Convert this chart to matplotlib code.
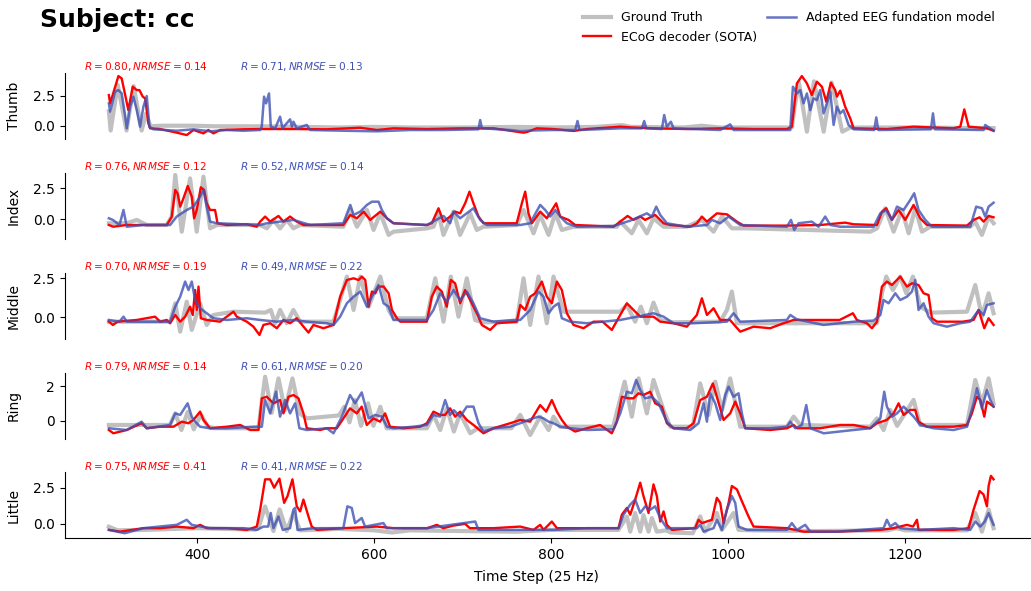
import numpy as np
import matplotlib.pyplot as plt

# Finger flexion traces for subject cc as (time step, value) knots
thumb_gt = [(300, 1.2), (302, -0.4), (310, 3.4), (320, -0.4), (328, 3.3), (337, -0.4), (342, 1.0),
            (347, -0.05), (360, 0.0), (395, 0.0), (420, -0.05), (470, -0.05), (520, -0.1), (560, -0.15),
            (600, -0.1), (640, -0.15), (700, -0.15), (760, -0.1), (800, -0.15), (850, -0.1), (880, 0.05),
            (890, -0.1), (950, -0.15), (970, 0.0), (990, -0.15), (1072, -0.15), (1075, 1.5), (1080, 3.6),
            (1089, -0.5), (1097, 3.7), (1108, -0.5), (1117, 3.6), (1129, -0.5), (1138, -0.15),
            (1200, -0.15), (1300, -0.2)]
thumb_ecog = [(300, 2.55), (301.4, 1.86), (310.8, 4.14), (314.5, 3.94), (322, 1.3), (327, 3.25),
              (331.5, 2.97), (334.5, 2.97), (338.3, 2.42), (341, 2.28), (344.7, 0.2), (346.6, -0.22),
              (358, -0.28), (376.7, -0.58), (388, -0.78), (395.6, -0.36), (406.9, -0.64), (412.5, -0.36),
              (418.2, -0.64), (425.8, -0.36), (452, -0.3), (471, -0.28), (508.6, -0.28), (546, -0.3),
              (584, -0.17), (603, -0.36), (621.7, -0.22), (659.4, -0.28), (697, -0.22), (734.7, -0.22),
              (768.7, -0.58), (772.4, -0.53), (783.7, -0.22), (802.6, -0.28), (825.2, -0.44),
              (840.3, -0.28), (878, -0.08), (889.3, -0.14), (915.6, -0.22), (953.3, -0.28), (991, -0.22),
              (1028.7, -0.28), (1066.4, -0.28), (1072, -0.08), (1077.7, 3.53), (1083.3, 4.14),
              (1089, 3.53), (1094.6, 2.56), (1100.3, 3.67), (1106, 3.25), (1110.9, 2.0), (1116.1, 3.58),
              (1121, 2.97), (1122.9, 2.42), (1126.7, 2.92), (1132.3, 1.58), (1138, 0.61), (1141.8, -0.22),
              (1179.4, -0.28), (1209.6, -0.08), (1254.8, -0.22), (1262.4, -0.08), (1266.9, 1.36),
              (1271.8, -0.08), (1292.5, -0.22), (1300, -0.42)]
thumb_eeg = [(300, 1.86), (301.4, 1.17), (307, 2.83), (310.8, 2.97), (314.5, 2.69), (318.5, 0.75),
             (320.2, -0.22), (324, 1.58), (327.7, 2.42), (331.5, 1.3), (335.3, -0.08), (339, 1.58),
             (342.8, 2.47), (345.8, -0.08), (350.3, -0.3), (376.7, -0.42), (395.6, -0.3), (414.4, -0.47),
             (433.3, -0.36), (452, -0.42), (471, -0.36), (472.8, -0.08), (475.4, 2.42), (477.7, 1.86),
             (481, 2.69), (483, -0.08), (488, -0.22), (493.5, 0.75), (496.2, -0.22), (504.8, 0.53),
             (506.9, -0.08), (508.6, 0.33), (512.4, -0.22), (523.7, 0.06), (527.5, -0.36), (565, -0.42),
             (603, -0.47), (640.6, -0.36), (678.2, -0.36), (717.8, -0.3), (719.7, 0.47), (721.6, -0.22),
             (753.6, -0.36), (765, -0.42), (802.6, -0.36), (827.1, -0.36), (829.7, 0.39), (832, -0.36),
             (878, -0.22), (902.5, -0.22), (905.1, 0.39), (907.4, -0.22), (925.1, -0.28), (927.7, 0.89),
             (930.7, -0.08), (935.2, 0.33), (938.3, -0.22), (991, -0.36), (1002.3, 0.11), (1006.1, -0.36),
             (1070.2, -0.36), (1073.2, 3.25), (1077.7, 2.69), (1081.5, 2.97), (1085.2, 1.86), (1089, 2.69),
             (1092.8, 1.3), (1096.5, 2.28), (1100.3, 2.14), (1104.1, 2.97), (1107.8, 1.03), (1111.6, 1.86),
             (1115.4, 2.83), (1119.2, 0.06), (1122.9, 1.58), (1126.7, 1.03), (1130.4, 1.3), (1136.1, 0.06),
             (1141.8, -0.3), (1165.1, -0.36), (1167.4, 0.69), (1169.7, -0.36), (1229.2, -0.3),
             (1231.5, 1.03), (1233.7, -0.3), (1288.7, -0.36), (1290.6, 0.06), (1300, -0.42)]

index_gt = [(300, -0.32), (320, -0.32), (331.5, -0.05), (342.8, -0.46), (365.4, -0.46), (371, 0.2),
            (375, 3.58), (382.4, -1.0), (391.8, 3.3), (399.3, -1.0), (406.9, 3.44), (414.4, -0.73),
            (422, -0.46), (471, -0.46), (478.5, -0.73), (486, -0.05), (493.5, -0.73), (501, -0.05),
            (508.6, -0.73), (516.2, -0.46), (565, -0.6), (572.9, 0.75), (580.4, -0.6), (591.7, 0.75),
            (599.2, -0.86), (606.8, 0.48), (616.2, -1.26), (621.7, -1.0), (659.4, -0.73), (667, -0.6),
            (672.6, 0.48), (678.2, -1.26), (689.6, 0.62), (697, -1.26), (708.4, 0.48), (715.9, -0.86),
            (723.4, -0.6), (761, -0.46), (768.7, 0.75), (780, -1.13), (787.5, 0.35), (797, -1.26),
            (804.5, 0.48), (812, -0.86), (825.2, -0.6), (874.2, -0.6), (878, -0.19), (891.1, -1.13),
            (898.7, -0.05), (908.1, -1.13), (915.6, 0.08), (927, -0.6), (953.3, -0.6), (970.3, -0.05),
            (983.5, -1.0), (993, 0.22), (1004.2, -0.73), (1021.2, -0.73), (1160.6, -1.0), (1168.2, -0.73),
            (1177.6, 0.89), (1187, -1.0), (1196.4, 0.75), (1204, -1.13), (1211.5, 0.89), (1219, -1.0),
            (1228.4, -0.6), (1273.6, -0.6), (1279.3, -0.19), (1286.8, -1.26), (1294.4, 0.22),
            (1300, -0.32)]
index_ecog = [(300, -0.46), (305, -0.6), (320, -0.46), (365.4, -0.46), (371, 0.2), (375, 2.37),
              (377.6, 2.1), (380.6, 1.02), (383.6, 1.56), (389.2, 2.69), (393.7, 1.83), (396.4, 0.08),
              (399.3, 0.75), (403.9, 2.58), (407.6, 2.37), (410.6, 1.29), (414.4, 0.75), (420, 0.75),
              (422.8, -0.32), (433.3, -0.46), (455.9, -0.4), (467.2, -0.6), (471, -0.19), (476.6, 0.22),
              (482.3, -0.19), (491.7, 0.27), (497.4, -0.19), (504.8, 0.22), (512.4, -0.19), (520, -0.46),
              (565, -0.46), (572.9, 0.35), (580.4, 0.08), (587.9, 0.62), (595.4, -0.05), (606.8, 0.62),
              (614.3, 0.08), (621.7, -0.32), (659.4, -0.46), (665, -0.32), (672.6, 0.89), (678.2, -0.19),
              (685.7, 0.22), (691.4, 0.62), (697, 0.48), (702.7, 1.29), (707.6, 2.23), (712.1, 1.29),
              (717.8, 0.22), (723.4, -0.32), (761, -0.32), (766.8, 1.29), (770.6, 2.23), (774.3, 0.48),
              (778.1, -0.32), (787.5, 0.62), (795, 0.08), (805.6, 1.29), (810.1, 0.22), (819.5, -0.05),
              (827.1, -0.46), (870.4, -0.6), (878, -0.19), (886.3, 0.27), (893, -0.05), (900.6, 0.22),
              (906.2, -0.05), (917.5, 0.35), (927, -0.32), (934.5, -0.46), (957.1, -0.6), (964.6, -0.32),
              (970.3, 0.22), (976, -0.19), (987.3, 0.48), (998.6, 0.4), (1009.9, -0.19), (1017.4, -0.51),
              (1066.4, -0.51), (1104.1, -0.46), (1132.3, -0.27), (1141.8, -0.4), (1168.2, -0.46),
              (1173.8, 0.62), (1178.7, 0.89), (1185.1, -0.05), (1192.6, 0.75), (1200.2, -0.05),
              (1209.6, 1.16), (1217.1, 0.08), (1224.7, -0.46), (1269.9, -0.51), (1277.4, -0.05),
              (1284.2, 0.16), (1288.7, -0.19), (1294.4, 0.27), (1300, 0.16)]
index_eeg = [(300, 0.08), (304.5, -0.05), (312, -0.46), (316.5, 0.75), (320.2, -0.6), (339, -0.46),
             (369.2, -0.46), (376.7, 0.22), (388, 0.75), (395.6, 1.02), (403.1, 1.83), (406.9, 2.37),
             (410.6, 1.02), (414.4, -0.19), (422, -0.32), (471, -0.46), (478.5, -0.32), (508.6, -0.05),
             (527.5, -0.46), (565, -0.32), (572.9, 1.16), (576.6, 0.35), (584.2, 0.62), (591.7, 1.16),
             (597.3, 1.42), (604.8, 1.42), (608.6, 0.75), (614.3, 0.08), (621.7, -0.32), (659.4, -0.46),
             (678.2, 0.27), (685.7, -0.32), (689.6, 0.62), (697, 0.08), (712.1, 0.89), (719.7, -0.05),
             (727.2, -0.46), (765, -0.46), (776.2, -0.32), (787.5, 1.16), (793.2, 0.75), (798.8, 0.22),
             (804.5, 0.75), (812, 0.08), (817.7, -0.32), (829, -0.6), (870.4, -0.54), (889.3, -0.11),
             (908.1, 0.48), (913.8, 0.22), (918.7, 1.02), (923.2, 0.35), (930.7, -0.32), (953.3, -0.6),
             (976, -0.46), (981.6, -0.05), (991, -0.32), (1000.5, 0.22), (1013.6, -0.46), (1066.4, -0.6),
             (1071, -0.05), (1074.7, -0.86), (1079.6, -0.32), (1094.6, -0.19), (1102.2, -0.6),
             (1109.7, 0.22), (1115.4, -0.46), (1126.7, -0.6), (1164.4, -0.6), (1171.9, 0.48),
             (1178.7, 0.75), (1185.1, -0.05), (1190.8, 1.02), (1198.3, 0.75), (1205.8, 1.56),
             (1210.3, 2.1), (1215.2, 0.75), (1222.8, -0.05), (1230.3, -0.6), (1273.6, -0.6),
             (1280.4, 1.02), (1286.8, 0.89), (1290.6, 0.22), (1294.4, 1.02), (1300, 1.34)]

middle_gt = [(300, -0.28), (369.2, -0.28), (375, 0.9), (380.6, -0.92), (388, 1.0), (393.7, -0.81),
             (403.1, 0.9), (410.6, -0.49), (418.2, 0.15), (440.8, 0.36), (476.6, 0.3), (483, 0.47),
             (487.9, -0.38), (493.5, 0.47), (501, -0.38), (508.6, 0.47), (516.2, -0.28), (553.9, -0.28),
             (561.4, 1.11), (569, 2.61), (576.6, 0.47), (584.2, 2.61), (593.6, 0.68), (606.8, 2.61),
             (616.2, 0.47), (621.7, -0.06), (659.4, -0.06), (668.9, 2.5), (678.2, -0.28), (686.5, 2.61),
             (695.2, 0.04), (704.6, 2.5), (714, -0.17), (721.6, -0.32), (761, -0.28), (768.7, 2.5),
             (776.2, -0.49), (785.6, 2.61), (795, -0.38), (802.6, 2.61), (813.9, 0.36), (878, 0.36),
             (885.5, 0.79), (894.9, -0.28), (901.3, 0.68), (908.1, -0.38), (915.6, 0.94), (923.2, -0.17),
             (934.5, -0.32), (991, -0.28), (998.6, 0.47), (1004.2, 1.65), (1009.9, -0.38), (1168.2, -0.38),
             (1173.8, 1.54), (1178.7, 2.61), (1186.2, 1.75), (1194.5, 2.61), (1201.3, 1.54),
             (1208.9, 2.61), (1217.1, 0.68), (1228.4, 0.3), (1269.9, 0.36), (1279.3, 2.07),
             (1286.8, 0.04), (1294.4, 1.54), (1300, 0.26)]
middle_ecog = [(300, -0.28), (304.5, -0.49), (310, -0.28), (331.5, -0.17), (352.2, 0.04), (358, -0.28),
               (365.4, -0.17), (369.2, -0.38), (375, 0.15), (380.6, -0.28), (386.2, 0.04), (391.8, 0.68),
               (394.8, 0.15), (397.5, 1.75), (399.3, 0.47), (401.3, 1.97), (403.9, -0.06), (410.6, -0.17),
               (425.7, -0.28), (440.8, 0.36), (444.6, 0.04), (455.9, -0.28), (463.4, -0.6), (470.2, -1.13),
               (474.7, -0.49), (482.3, -0.38), (489.8, -0.7), (497.4, -0.17), (504.8, -0.38),
               (512.4, -0.06), (520, -0.6), (525.6, -0.98), (531.2, -0.49), (542.5, -0.7), (553.9, -0.49),
               (561.4, 1.32), (569, 2.39), (576.6, 2.5), (582.2, 2.39), (586, 2.61), (589.8, 2.39),
               (593.6, 0.68), (597.3, 1.65), (601.1, 1.54), (604.8, 1.97), (610.5, 1.97), (616.2, 1.54),
               (620, 0.47), (625.6, -0.06), (629.4, -0.28), (659.4, -0.28), (665, 1.32), (670.6, 1.97),
               (676.3, 1.65), (681.9, 0.68), (686.5, 2.39), (691.4, 2.18), (697, 0.9), (702.7, 1.75),
               (710.2, 0.9), (715.9, 0.26), (721.6, -0.49), (731, -0.81), (738.6, -0.38), (761, -0.28),
               (765, 0.79), (770.6, 0.47), (776.2, 1.32), (781.9, 1.54), (789.4, 2.29), (795, 1.32),
               (800.7, 0.9), (806.4, 2.29), (812, 1.75), (817.7, 0.26), (825.2, -0.49), (836.5, -0.7),
               (847.8, -0.28), (858, -0.28), (868.5, -0.81), (878, 0.15), (885.5, 0.9), (893, 0.47),
               (900.6, 0.04), (915.6, 0.04), (923.2, -0.28), (938.3, -0.38), (953.3, -0.6), (964.6, 0.15),
               (970.3, 1.22), (976, 0.15), (983.5, 0.58), (991, -0.17), (1002, -0.17), (1013.6, -0.92),
               (1028.7, -0.6), (1047.5, -0.7), (1062.6, -0.38), (1074, -0.17), (1126, -0.17),
               (1141, 0.26), (1145.5, -0.17), (1156.8, -0.38), (1162.5, -0.7), (1168.2, -0.28),
               (1173.8, 1.97), (1179.4, 2.29), (1185.1, 2.07), (1194.5, 2.61), (1202.1, 1.97),
               (1207.7, 2.18), (1215.2, 2.07), (1220.9, 1.54), (1226.5, 1.43), (1230.3, -0.06),
               (1236, -0.28), (1265, -0.28), (1277.4, -0.17), (1283.1, 0.47), (1289.5, -0.7),
               (1294.4, -0.06), (1300, -0.49)]
middle_eeg = [(300, -0.17), (312, -0.28), (316.5, 0.04), (320.2, -0.28), (369.2, -0.28), (375, 0.68),
              (380.6, 1.32), (386.2, 2.29), (390, 1.75), (393.7, 2.29), (397.5, 1.11), (403.1, 0.58),
              (410.6, 0.26), (418.2, -0.06), (433.3, -0.17), (455.9, -0.06), (471, -0.17), (489.8, -0.28),
              (508.6, -0.17), (523.7, -0.28), (546, -0.38), (553.9, -0.49), (561.4, 0.04), (569, 0.9),
              (576.6, 1.32), (584.2, 1.65), (591.7, 0.68), (597.3, 1.32), (604.8, 2.07), (610.5, 0.9),
              (616.2, 0.68), (621.7, -0.17), (659.4, -0.17), (666.9, 0.47), (674.5, 1.54), (682, 1.0),
              (689.6, 1.75), (697, 1.11), (704.6, 1.65), (712.1, 0.9), (719.7, -0.06), (734.7, -0.28),
              (757.3, -0.17), (765, -0.17), (776.2, 0.47), (785.6, 1.65), (791.3, 1.32), (797, 0.26),
              (802.6, 0.68), (808.2, 0.9), (812, -0.06), (821.4, -0.28), (840.3, -0.38), (878, -0.17),
              (896.8, 0.04), (915.6, 0.26), (927, 0.04), (938.3, -0.38), (960, -0.38), (998.6, -0.28),
              (1006.1, 0.26), (1013.6, -0.28), (1066.4, -0.17), (1070.2, 0.15), (1077.7, -0.13),
              (1107.8, -0.49), (1141.8, -0.28), (1164.4, -0.21), (1172, 0.15), (1175.7, 1.11),
              (1181.3, 0.9), (1188.9, 1.54), (1194.5, 1.11), (1202.1, 1.32), (1207.7, 1.65),
              (1211.5, 2.39), (1215.2, 0.47), (1220.9, 0.9), (1226.5, 0.04), (1232.2, -0.38),
              (1247.3, -0.6), (1262.4, -0.38), (1273.6, -0.28), (1283.1, 0.47), (1288.7, 0.15),
              (1292.5, 0.79), (1300, 0.9)]

ring_gt = [(300, -0.25), (369, -0.25), (375, 0.42), (382, -0.54), (389, 0.5), (396, -0.5), (404, 0.35),
           (412, -0.35), (420, -0.44), (469, -0.44), (476.6, 2.54), (484, 0.45), (491.7, 2.44),
           (499, 0.6), (507.5, 2.44), (516, 0.4), (523.7, 0.13), (560, 0.3), (566, 0.8), (572, -0.1),
           (578, 1.2), (585, -0.3), (593, 1.0), (599, -0.3), (606.8, 0.8), (614, -0.44), (659.4, -0.44),
           (666.9, 0.33), (674.5, -0.54), (682, 0.7), (690, -0.63), (697, 0.42), (708.4, -0.73),
           (717, -0.44), (755, -0.44), (765, 0.33), (776.2, -0.83), (787.5, 0.23), (797, -0.54),
           (802.6, 0.23), (810, -0.35), (870, -0.35), (883, 2.25), (891.1, 0.23), (898.7, 2.44),
           (908.1, 0.42), (915.6, 2.35), (927, 0.6), (934.5, -0.35), (960, -0.35), (968.4, 2.15),
           (977.8, 0.33), (985.4, 2.25), (993, 0.6), (1002.3, 2.44), (1013.6, -0.35), (1066.4, -0.35),
           (1074, 0.23), (1081.6, -0.25), (1160.6, -0.35), (1168.2, 0.13), (1175.7, -0.54),
           (1183.2, 0.62), (1191, -0.3), (1209.6, 1.2), (1217.1, -0.25), (1269.9, -0.25),
           (1279.3, 2.35), (1286.8, 1.0), (1294.4, 2.44), (1300, 1.0)]
ring_ecog = [(300, -0.54), (305, -0.73), (320.2, -0.54), (337, -0.15), (342.8, -0.44), (358, -0.35),
             (373, -0.35), (382.4, -0.06), (390, -0.15), (395.6, 0.04), (403.1, 0.52), (406.9, 0.04),
             (414.4, -0.44), (433.3, -0.35), (448.4, -0.25), (459.7, -0.54), (469.1, -0.54),
             (472.9, 1.29), (478.5, 1.38), (486, 1.0), (493.5, 1.19), (497.3, 0.42), (503, 1.38),
             (508.6, 1.48), (514.3, 1.29), (519.9, 0.42), (523.7, -0.44), (538.7, -0.54), (546.3, -0.44),
             (557.6, -0.44), (565.1, 0.13), (572.6, 0.71), (580.2, 0.42), (585.8, 0.81), (591.5, -0.25),
             (599, 0.13), (606.5, -0.06), (612.2, 0.42), (617.8, -0.35), (632.9, -0.44), (651.7, -0.35),
             (659.4, -0.15), (666.9, 0.52), (674.5, 0.33), (680, 0.33), (685.7, 0.71), (691.4, 0.23),
             (697, 0.52), (704.6, 0.04), (712.1, -0.25), (723.4, -0.73), (734.7, -0.44), (753.6, -0.15),
             (765, 0.04), (776.2, -0.06), (787.5, 0.9), (794.3, 0.52), (800.7, 1.19), (806.4, 0.52),
             (812, 0.04), (817.7, -0.35), (827.1, -0.63), (840.3, -0.44), (855.3, -0.25), (868.5, -0.73),
             (874.2, -0.06), (879.8, 1.38), (887.4, 1.29), (893, 1.29), (898.7, 1.58), (904.3, 1.48),
             (911.9, 1.67), (917.5, 1.0), (925.1, 0.81), (930.7, -0.15), (938.3, -0.44), (953.3, -0.44),
             (960.9, -0.15), (968.4, 1.19), (976, 1.38), (982.7, 2.15), (987.2, 1.38), (994.8, 0.04),
             (1002.3, 0.42), (1008, 1.1), (1013.6, 0.42), (1019.3, -0.44), (1047.5, -0.54),
             (1066.4, -0.44), (1074, -0.25), (1078, -0.44), (1104.1, -0.44), (1126.7, -0.25),
             (1141.8, -0.25), (1160.6, -0.44), (1168.2, -0.15), (1179.4, 0.04), (1187, 0.42),
             (1192.6, 1.0), (1198.3, 0.33), (1205.8, 0.62), (1211.5, 0.62), (1215.2, -0.06),
             (1224.7, -0.35), (1254.8, -0.35), (1269.9, -0.25), (1275.5, 0.42), (1281.2, 1.38),
             (1285, 1.2), (1289.5, 0.23), (1292.5, 1.1), (1300, 0.81)]
ring_eeg = [(300, -0.44), (320.2, -0.54), (337, -0.06), (342.8, -0.44), (369.2, -0.25), (375, 0.42),
            (380.6, 0.33), (389, 1.0), (393.7, 0.23), (397.5, -0.06), (403.1, -0.35), (414.4, -0.44),
            (433.3, -0.44), (463.4, -0.35), (472.9, -0.35), (476.6, 1.19), (482.3, 0.42), (489, 1.67),
            (493.5, 0.23), (499.2, 1.19), (504.8, 0.42), (510.5, 1.0), (515.4, -0.44), (523.7, -0.54),
            (546.3, -0.44), (553.9, -0.73), (563.3, 0.23), (572.6, 1.48), (578.3, 1.0), (585.8, 1.63),
            (593.6, 0.13), (601.1, 0.33), (608.6, 0.23), (614.3, -0.35), (621.7, -0.44), (644.3, -0.35),
            (659.4, -0.25), (666.9, 0.33), (674.5, 0.23), (680.1, 1.19), (685.7, 0.33), (690, 0.6),
            (697, 0.23), (704.6, 0.81), (712.1, 0.81), (717.8, -0.15), (723.4, -0.63), (734.7, -0.44),
            (753.6, -0.35), (765, -0.15), (776.2, 0.08), (785.6, 0.23), (791.3, 0.13), (797, -0.06),
            (802.6, -0.15), (810.1, -0.35), (821.4, -0.44), (840.3, -0.54), (870.4, -0.5), (878, 0.42),
            (885.5, 1.67), (891.1, 1.58), (896, 2.35), (900.6, 1.77), (906.2, 1.29), (913.8, 1.38),
            (921.3, 1.0), (930.7, -0.06), (938.3, -0.44), (957.1, -0.54), (966.5, -0.15), (972.2, 1.0),
            (976, -0.06), (979.7, 1.58), (985.4, 1.0), (991, 0.04), (996.7, 1.48), (1000.5, 1.96),
            (1006.1, 1.38), (1011.7, 1.58), (1015.5, 0.42), (1019.3, -0.44), (1047.5, -0.44),
            (1066.4, -0.35), (1070.2, -0.06), (1075.8, -0.44), (1083.3, -0.25), (1088.3, 0.9),
            (1092.8, -0.44), (1108, -0.73), (1141.8, -0.54), (1160.6, -0.44), (1172, 0.13),
            (1176.4, 1.67), (1179.4, 0.81), (1185.1, 0.23), (1190.8, 0.42), (1198.3, 0.81), (1204, 0.52),
            (1209.6, 0.23), (1217.1, -0.25), (1232.2, -0.44), (1254.8, -0.54), (1269.9, -0.35),
            (1277.4, 1.0), (1281.2, 1.87), (1286.8, 0.71), (1292.5, 1.77), (1296.3, 1.19), (1300, 0.81)]

little_gt = [(300, -0.2), (310, -0.45), (340, -0.42), (400, -0.3), (465, -0.4), (469, -0.3), (476.6, 1.2),
             (486, -0.5), (493, 1.0), (501, -0.5), (508.6, 0.75), (516, -0.45), (560, -0.35), (600, -0.45),
             (620, -0.6), (640, -0.45), (700, -0.5), (760, -0.55), (800, -0.42), (876, -0.42), (885.5, 0.5),
             (889.3, -0.54), (894.9, 0.75), (900.6, -0.54), (904.3, 0.6), (910, -0.54), (913.8, 0.4),
             (919.4, -0.54), (930, -0.45), (935, -0.6), (960, -0.65), (968.4, 0.51), (974, -0.54),
             (987.2, 0.75), (992.9, -0.42), (1006.1, 0.75), (1011.7, -0.42), (1030, -0.45), (1100, -0.5),
             (1180, -0.45), (1190, -0.3), (1200, -0.45), (1270, -0.45), (1279.3, 0.75), (1286.8, -0.54),
             (1294.4, 0.98), (1300, -0.3)]
little_ecog = [(300, -0.42), (312.7, -0.54), (339, -0.3), (358, -0.3), (376.7, -0.19), (395.6, -0.3),
               (403.1, -0.07), (410.6, -0.3), (433.3, -0.3), (455.9, -0.42), (467.2, -0.19), (471, 0.98),
               (476.6, 3.08), (482.3, 3.08), (486.8, 2.5), (492.8, 3.13), (498.1, 1.45), (501.9, 1.92),
               (507.5, 3.08), (512.4, 1.21), (516.2, 0.86), (519.9, 1.68), (525.6, 0.51), (529.3, -0.19),
               (535, -0.42), (565, -0.3), (603, -0.19), (621.7, -0.3), (660, -0.3), (670.7, -0.07),
               (678, -0.3), (689.6, -0.12), (702.7, 0.0), (708, -0.3), (734.7, -0.3), (764.9, -0.19),
               (780, -0.42), (787.5, -0.07), (791.3, -0.42), (800.7, 0.16), (806.4, -0.3), (840.3, -0.3),
               (876.1, -0.3), (879.8, 0.63), (885.5, 1.1), (889.3, 0.63), (894.9, 1.68), (900.6, 2.85),
               (904.3, 1.92), (910, 0.75), (915.6, 2.73), (919.4, 1.92), (923.2, 0.16), (927, 0.86),
               (930.7, -0.07), (936.4, -0.42), (962.7, -0.3), (966.5, 0.28), (970.3, 0.05), (981.6, 0.28),
               (987.2, 1.8), (991, 1.45), (994.8, 0.05), (1000.5, 1.45), (1004.2, 2.62), (1009.9, 2.38),
               (1015.5, 1.57), (1023, 0.51), (1028.7, -0.19), (1066.4, -0.3), (1085.2, -0.54),
               (1123, -0.54), (1171.9, -0.42), (1187, -0.3), (1202.1, -0.07), (1209, -0.19),
               (1213.4, 0.28), (1215.2, -0.42), (1254.8, -0.42), (1271.8, -0.3), (1277.4, 0.98),
               (1284.2, 2.27), (1288.7, 2.03), (1292.5, 1.21), (1294.4, 2.62), (1297, 3.32), (1300, 3.08)]
little_eeg = [(300, -0.42), (317.8, -0.65), (339, -0.3), (376.7, -0.07), (388, 0.28), (393.7, -0.07),
              (414.4, -0.3), (452, -0.3), (467.2, -0.42), (474.7, -0.19), (480, -0.19), (483, 0.75),
              (486, -0.3), (491.7, 0.51), (496.6, -0.42), (504.8, -0.3), (508.6, 0.98), (510.5, 1.1),
              (513.2, -0.42), (531.2, -0.3), (565, -0.3), (569.6, 1.21), (574.5, 1.1), (578.3, 0.05),
              (585.8, 0.4), (589.6, -0.19), (610.3, 0.05), (614.1, -0.3), (659.4, -0.3), (714.1, 0.16),
              (717.8, -0.42), (765, -0.42), (802.6, -0.42), (840.3, -0.3), (876.1, -0.3), (881.7, 0.63),
              (889.3, 1.33), (894.9, 1.68), (900.6, 0.75), (906.2, 1.21), (911.9, 0.98), (917.5, 1.21),
              (923.2, 0.4), (930.7, -0.3), (964.6, -0.3), (968.4, -0.07), (972.2, -0.54), (983.5, -0.3),
              (987.2, 0.28), (992.9, -0.42), (998.6, 0.98), (1004.2, 1.92), (1008, 1.45), (1011.7, -0.19),
              (1021.2, -0.42), (1066.4, -0.42), (1072, 0.05), (1077.7, -0.42), (1087.1, -0.07),
              (1092.8, -0.54), (1123, -0.54), (1175.7, -0.3), (1179.4, 0.28), (1183.2, -0.19),
              (1188.9, 0.05), (1194.5, -0.3), (1217.1, -0.42), (1254.8, -0.3), (1273.6, -0.42),
              (1279.3, 0.16), (1285, -0.19), (1290, 0.16), (1294.4, 0.75), (1300, -0.07)]

fingers = ['Thumb', 'Index', 'Middle', 'Ring', 'Little']
gt_series = [thumb_gt, index_gt, middle_gt, ring_gt, little_gt]
ecog_series = [thumb_ecog, index_ecog, middle_ecog, ring_ecog, little_ecog]
eeg_series = [thumb_eeg, index_eeg, middle_eeg, ring_eeg, little_eeg]
ecog_r = [0.80, 0.76, 0.70, 0.79, 0.75]
ecog_nrmse = [0.14, 0.12, 0.19, 0.14, 0.41]
eeg_r = [0.71, 0.52, 0.49, 0.61, 0.41]
eeg_nrmse = [0.13, 0.14, 0.22, 0.20, 0.22]
ylims = [(-1.11, 4.42), (-1.59, 3.76), (-1.39, 2.86), (-1.06, 2.77), (-1.0, 3.59)]
yticks = [[0.0, 2.5], [0.0, 2.5], [0.0, 2.5], [0.0, 2.0], [0.0, 2.5]]

gt_color = '#c0c0c0'
ecog_color = 'red'
eeg_color = '#3f51b5'

fig = plt.figure(figsize=(10.31, 5.91), dpi=100)
bottoms = [0.7648, 0.5956, 0.4264, 0.2572, 0.0892]

for i, name in enumerate(fingers):
    ax = fig.add_axes([0.0627, bottoms[i], 0.9439, 0.1122])
    gt = np.array(gt_series[i])
    ec = np.array(ecog_series[i])
    ee = np.array(eeg_series[i])
    l1, = ax.plot(gt[:, 0], gt[:, 1], color=gt_color, lw=3, label='Ground Truth')
    l2, = ax.plot(ec[:, 0], ec[:, 1], color=ecog_color, lw=1.7, label='ECoG decoder (SOTA)')
    l3, = ax.plot(ee[:, 0], ee[:, 1], color=eeg_color, lw=1.8, alpha=0.8,
                  label='Adapted EEG fundation model')
    ax.set_xlim(250, 1350)
    ax.set_ylim(*ylims[i])
    ax.set_yticks(yticks[i])
    ax.set_ylabel(name)
    ax.yaxis.set_label_coords(-0.045, 0.5)
    ax.spines['top'].set_visible(False)
    ax.spines['right'].set_visible(False)
    if i < 4:
        ax.spines['bottom'].set_visible(False)
        ax.set_xticks([])
    else:
        ax.set_xticks([400, 600, 800, 1000, 1200])
        ax.set_xlabel('Time Step (25 Hz)')
        ax.xaxis.set_label_coords(0.485, -0.48)
    ax.text(0.02, 1.09, rf'$R = {ecog_r[i]:.2f}, NRMSE = {ecog_nrmse[i]:.2f}$',
            transform=ax.transAxes, color=ecog_color, fontsize=7.6, va='center')
    ax.text(0.18, 1.09, rf'$R = {eeg_r[i]:.2f}, NRMSE = {eeg_nrmse[i]:.2f}$',
            transform=ax.transAxes, color=eeg_color, fontsize=7.6, va='center')

fig.text(0.039, 0.967, 'Subject: cc', fontsize=18, fontweight='bold', va='center')
fig.legend(handles=[l1, l2, l3], loc='upper right', bbox_to_anchor=(0.976, 1.0), ncol=2,
           frameon=False, fontsize=9, columnspacing=0.8, handlelength=2.3)

fig.savefig('out.png', dpi=100)
